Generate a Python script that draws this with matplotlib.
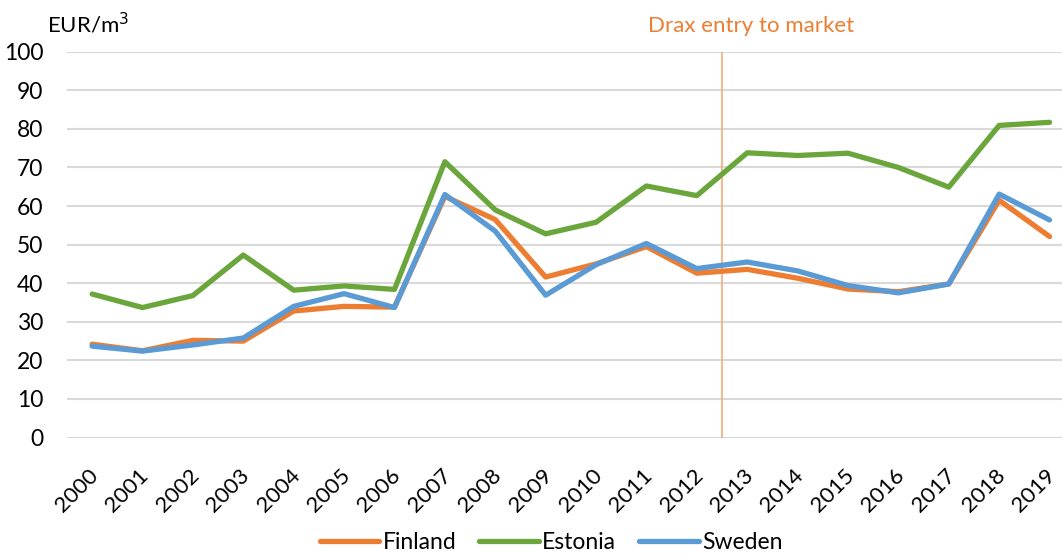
import matplotlib
matplotlib.use("Agg")
import matplotlib.pyplot as plt
import matplotlib.transforms as mtransforms
from matplotlib.lines import Line2D

years = list(range(2000, 2020))
finland = [24.2, 22.5, 25.2, 25.0, 32.8, 34.0, 33.8, 62.5, 56.5, 41.6,
           45.0, 49.5, 42.6, 43.6, 41.3, 38.5, 37.8, 39.8, 61.5, 52.1]
estonia = [37.2, 33.7, 36.8, 47.3, 38.2, 39.3, 38.4, 71.5, 59.0, 52.8,
           55.8, 65.2, 62.7, 73.8, 73.1, 73.7, 70.0, 64.9, 80.9, 81.7]
sweden = [23.7, 22.4, 24.0, 25.8, 34.0, 37.3, 33.7, 63.0, 53.5, 36.9,
          44.8, 50.3, 43.8, 45.5, 43.2, 39.4, 37.5, 39.8, 63.1, 56.4]
drax_pos = 12.5  # between 2012 and 2013

plt.rcParams['font.family'] = ['Lato', 'DejaVu Sans']

fig = plt.figure(figsize=(10.62, 5.56), dpi=100)
ax = fig.add_axes([0.063, 0.213, 0.949, 0.694])

x = list(range(len(years)))
ax.plot(x, finland, color='#ED7D31', lw=3.8, label='Finland', solid_capstyle='round', zorder=3)
ax.plot(x, estonia, color='#6AA63C', lw=3.8, label='Estonia', solid_capstyle='round', zorder=3)
ax.plot(x, sweden, color='#5B9BD5', lw=3.8, label='Sweden', solid_capstyle='round', zorder=4)

ax.axvline(drax_pos, ymin=0, ymax=1, color='#F4B183', lw=1.3, zorder=2)
ax.text(drax_pos + 0.58, 104.0, 'Drax entry to market', color='#ED7D31',
        fontsize=16, ha='center', va='bottom')

ax.set_xlim(-0.5, len(years) - 0.5)
ax.set_ylim(0, 100)
ax.set_yticks(range(0, 101, 10))
ax.set_xticks(x)
ax.set_xticklabels([str(y) for y in years], rotation=45, ha='right',
                   rotation_mode='anchor', fontsize=16)
ax.tick_params(axis='y', labelsize=16.5, length=0, pad=17)
ax.tick_params(axis='x', length=0, pad=20)
# nudge the rotated year labels a bit left so 2019 stays inside
shift = mtransforms.ScaledTranslation(-4 / 100, 0, fig.dpi_scale_trans)
for lbl in ax.get_xticklabels():
    lbl.set_transform(lbl.get_transform() + shift)
ax.grid(axis='y', color='#D9D9D9', lw=1.5)
ax.set_axisbelow(True)
for s in ax.spines.values():
    s.set_visible(False)

fig.text(0.044, 1 - 33 / 556, 'EUR/m$^3$', fontsize=16, ha='left', va='baseline')

handles = [Line2D([], [], color='#ED7D31', lw=3.8, solid_capstyle='round'),
           Line2D([], [], color='#6AA63C', lw=3.8, solid_capstyle='round'),
           Line2D([], [], color='#5B9BD5', lw=3.8, solid_capstyle='round')]
fig.legend(handles, ['Finland', 'Estonia', 'Sweden'], loc='lower center',
           bbox_to_anchor=(0.519, -0.032), ncol=3, frameon=False, fontsize=16.5,
           handlelength=2.6, handletextpad=0.15, columnspacing=1.0)

fig.savefig('out.png', dpi=100)
